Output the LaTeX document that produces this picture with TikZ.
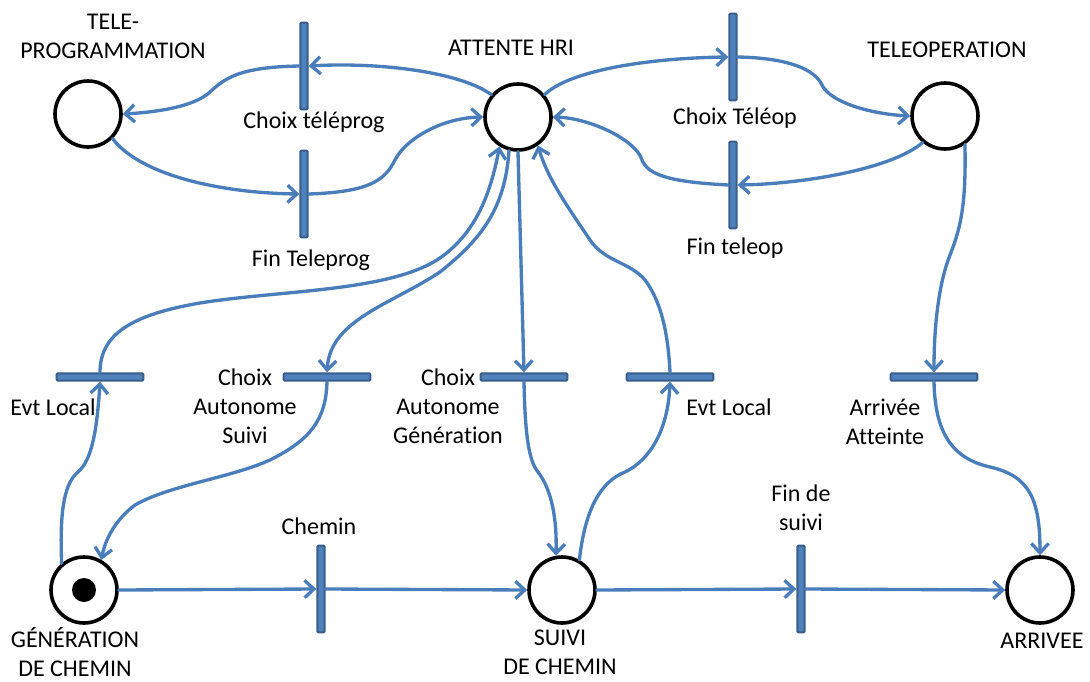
\documentclass[tikz,border=0pt]{standalone}
\usepackage{fontspec}
\setmainfont{Carlito}[Ligatures=NoCommon]
\usetikzlibrary{arrows.meta}
\definecolor{arcblue}{HTML}{4A7EBB}
\definecolor{barfill}{HTML}{4F81BD}
\definecolor{barline}{HTML}{385D8A}
\begin{document}
\begin{tikzpicture}[x=0.75pt,y=-0.75pt,
  place/.style={circle, draw=black, line width=2.7pt, minimum size=49.5pt, inner sep=0pt, fill=white},
  vbar/.style={rectangle, fill=barfill, draw=barline, line width=1.5pt, minimum width=5.5pt, minimum height=65pt, inner sep=0pt, rounded corners=0.8pt},
  hbar/.style={rectangle, fill=barfill, draw=barline, line width=1.5pt, minimum width=65pt, minimum height=5.5pt, inner sep=0pt, rounded corners=0.8pt},
  token/.style={circle, fill=black, minimum size=18pt, inner sep=0pt},
  lbl/.style={align=center, inner sep=0pt, font=\fontsize{18}{21.6}\selectfont},
  arc/.style={draw=arcblue, line width=2.5pt, line cap=round, -{Straight Barb[length=7pt,width=13pt]}}
]
\useasboundingbox (0,0) rectangle (1090,682);

% places
\node[place] (tp) at (88,114) {};
\node[place] (hri) at (518,117) {};
\node[place] (top) at (945,116) {};
\node[place] (gen) at (84,590) {};
\node[token] (tok) at (84,590) {};
\node[place] (suivi) at (562,590) {};
\node[place] (arr) at (1040,590) {};

% transitions
\node[vbar] (ctp) at (304,66) {};
\node[vbar] (ftp) at (304,194) {};
\node[vbar] (cto) at (733,57) {};
\node[vbar] (fto) at (733,185) {};
\node[hbar] (evl) at (100,377) {};
\node[hbar] (cas) at (327,377) {};
\node[hbar] (cag) at (524,377) {};
\node[hbar] (evr) at (670,377) {};
\node[hbar] (aat) at (934,377) {};
\node[vbar] (chm) at (321,589) {};
\node[vbar] (fds) at (801,589) {};

% labels
\node[lbl] (tpL) at (113,36) {TELE-\\PROGRAMMATION};
\node[lbl] (hriL) at (511,48) {ATTENTE HRI};
\node[lbl] (topL) at (947,50) {TELEOPERATION};
\node[lbl] (genL) at (75,652) {GÉNÉRATION\\DE CHEMIN};
\node[lbl] (suiviL) at (560,652) {SUIVI\\DE CHEMIN};
\node[lbl] (arrL) at (1042,641) {ARRIVEE};
\node[lbl] (ctpL) at (314,122) {Choix téléprog};
\node[lbl] (ftpL) at (311,260) {Fin Teleprog};
\node[lbl] (ctoL) at (735,118) {Choix Téléop};
\node[lbl] (ftoL) at (735,248) {Fin teleop};
\node[lbl] (evlL) at (53,407) {Evt Local};
\node[lbl] (casL) at (245,406) {Choix\\Autonome\\Suivi};
\node[lbl] (cagL) at (448,406) {Choix\\Autonome\\Génération};
\node[lbl] (evrL) at (729,407) {Evt Local};
\node[lbl] (aatL) at (885,422) {Arrivée\\Atteinte};
\node[lbl] (chmL) at (319,526) {Chemin};
\node[lbl] (fdsL) at (801,508) {Fin de\\suivi};

% arcs of the upper loops
\draw[arc] (hri.140) .. controls (460,72) and (380,62) .. (ctp.east);
\draw[arc] (ctp.west) .. controls (240,67) and (225,78) .. (210,92)
  .. controls (195,106) and (160,112) .. (tp.east);
\draw[arc] (tp.-45) .. controls (140,175) and (220,193) .. (ftp.west);
\draw[arc] (ftp.east) .. controls (370,192) and (385,180) .. (395,160)
  .. controls (405,140) and (440,118) .. (hri.west);
\draw[arc] (hri.40) .. controls (570,70) and (650,58) .. (cto.west);
\draw[arc] (cto.east) .. controls (790,58) and (815,70) .. (822,85)
  .. controls (830,102) and (870,114) .. (top.west);
\draw[arc] (top.-130) .. controls (890,170) and (800,184) .. (fto.east);
\draw[arc] (fto.west) .. controls (670,182) and (648,175) .. (642,160)
  .. controls (636,140) and (590,118) .. (hri.east);

% arcs between the attente place and the lower transitions
\draw[arc] (hri.south) -- (cag.north);
\draw[arc] (cag.south) .. controls (525,430) and (528,460) .. (538,472)
  .. controls (552,490) and (557,520) .. (suivi.100);
\draw[arc] (suivi.60) .. controls (585,510) and (600,482) .. (625,472)
  .. controls (650,460) and (668,430) .. (evr.south);
\draw[arc] (evr.north) .. controls (668,330) and (660,300) .. (645,280)
  .. controls (630,262) and (605,262) .. (590,240)
  .. controls (570,210) and (548,180) .. (hri.-55);
\draw[arc] (evl.north) .. controls (100,335) and (130,315) .. (200,303)
  .. controls (280,290) and (390,292) .. (440,258)
  .. controls (480,230) and (492,185) .. (hri.-122);
\draw[arc] (hri.-105) .. controls (505,210) and (480,240) .. (440,272)
  .. controls (390,305) and (330,320) .. (cas.north);
\draw[arc] (cas.south) .. controls (326,420) and (310,440) .. (270,460)
  .. controls (230,478) and (170,485) .. (135,505)
  .. controls (115,520) and (105,540) .. (gen.60);
\draw[arc] (gen.130) .. controls (60,520) and (62,485) .. (78,472)
  .. controls (92,460) and (97,430) .. (evl.south);
\draw[arc] (top.-55) .. controls (966,200) and (962,225) .. (950,255)
  .. controls (940,280) and (934,320) .. (aat.north);
\draw[arc] (aat.south) .. controls (935,430) and (950,458) .. (990,467)
  .. controls (1030,476) and (1040,500) .. (arr.north);

% bottom row
\draw[arc] (gen.east) -- (chm.west);
\draw[arc] (chm.east) -- (suivi.west);
\draw[arc] (suivi.east) -- (fds.west);
\draw[arc] (fds.east) -- (arr.west);
\end{tikzpicture}
\end{document}
